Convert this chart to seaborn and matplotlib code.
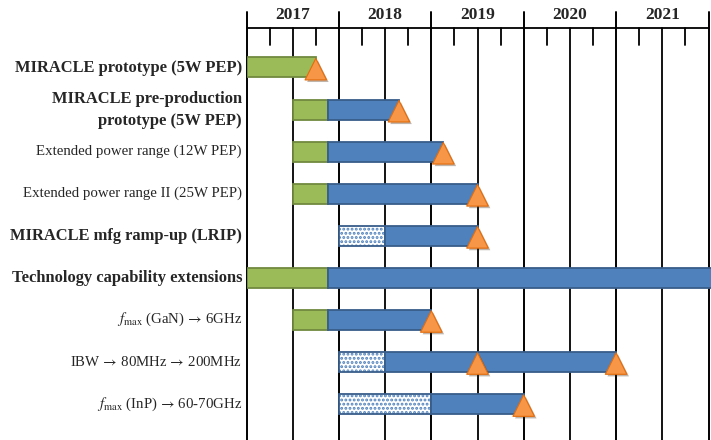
import matplotlib
matplotlib.use("Agg")
import matplotlib.pyplot as plt
import seaborn as sns
from matplotlib import patheffects as pe
from matplotlib.transforms import blended_transform_factory

sns.set_style("white")
plt.rcParams['font.family'] = ['Liberation Serif', 'DejaVu Serif']
plt.rcParams['mathtext.fontset'] = 'stix'
plt.rcParams['hatch.linewidth'] = 1.4

# ---------------- data ----------------
tasks = [
    "MIRACLE prototype (5W PEP)",
    "MIRACLE pre-production\nprototype (5W PEP)",
    "Extended power range (12W PEP)",
    "Extended power range II (25W PEP)",
    "MIRACLE mfg ramp-up (LRIP)",
    "Technology capability extensions",
    r"$f_{\rm max}$ (GaN)$\,\rightarrow\,$6GHz",
    r"IBW$\,\rightarrow\,$80MHz$\,\rightarrow\,$200MHz",
    r"$f_{\rm max}$ (InP)$\,\rightarrow\,$60-70GHz",
]
bold = [True, True, False, False, True, True, False, False, False]
phase1_kind = ["green", "green", "green", "green", "dotted", "green", "green", "dotted", "dotted"]
phase1_start = [2017.0, 2017.5, 2017.5, 2017.5, 2018.0, 2017.0, 2017.5, 2018.0, 2018.0]
phase1_end = [2017.75, 2017.88, 2017.88, 2017.88, 2018.5, 2017.88, 2017.88, 2018.5, 2019.0]
phase2_end = [None, 2018.65, 2019.13, 2019.5, 2019.5, 2022.2, 2019.0, 2021.0, 2020.0]
milestone_row = [0, 1, 2, 3, 4, 6, 7, 7, 8]
milestone_time = [2017.75, 2018.65, 2019.13, 2019.5, 2019.5, 2019.0, 2019.5, 2021.0, 2020.0]
years = [2017, 2018, 2019, 2020, 2021]

GREEN, GREEN_E = "#9BBB59", "#71893F"
BLUE, BLUE_E = "#4F81BD", "#385D8A"
ORANGE, ORANGE_E = "#F79646", "#E46C0A"

W, H = 711, 440
fig = plt.figure(figsize=(W / 100, H / 100), dpi=100)
x0 = 246.5
pxyear = 92.4
ax = fig.add_axes([x0 / W, 0, (W - x0) / W, 1])
ax.set_xlim(2017, 2017 + (W - x0) / pxyear)
row0, rowstep = 67.5, 42.05
ax.set_ylim((H - row0) / rowstep, -row0 / rowstep)
ax.axis("off")

bar_h = 20 / rowstep
for i in range(len(tasks)):
    if phase1_kind[i] == "green":
        ax.barh(i, phase1_end[i] - phase1_start[i], left=phase1_start[i], height=bar_h,
                color=GREEN, edgecolor=GREEN_E, linewidth=1.3, zorder=3)
    else:
        ax.barh(i, phase1_end[i] - phase1_start[i], left=phase1_start[i], height=bar_h,
                color="white", edgecolor=BLUE, hatch="....", linewidth=0, zorder=3)
        ax.barh(i, phase1_end[i] - phase1_start[i], left=phase1_start[i], height=bar_h,
                fill=False, edgecolor=BLUE_E, linewidth=1.3, zorder=3)
    if phase2_end[i] is not None:
        ax.barh(i, phase2_end[i] - phase1_end[i], left=phase1_end[i], height=bar_h,
                color=BLUE, edgecolor=BLUE_E, linewidth=1.3, zorder=3)

# milestones
sns.scatterplot(x=milestone_time, y=[r + 0.04 for r in milestone_row], marker="^",
                s=240, color=ORANGE, edgecolor=ORANGE_E, linewidth=0.8,
                ax=ax, zorder=6, legend=False)
for coll in ax.collections:
    coll.set_path_effects([pe.SimplePatchShadow(offset=(1.5, -1.5), alpha=0.35), pe.Normal()])
    coll.set_clip_on(False)

# header / grid
tx = ax.get_xaxis_transform()
fy = lambda p: 1 - p / H
ax.plot([2017, 2022], [fy(28), fy(28)], transform=tx, color="black", lw=1.3, clip_on=False, zorder=2)
for y in years + [2022]:
    ax.plot([y, y], [fy(12), fy(H)], transform=tx, color="black", lw=1.4, clip_on=False, zorder=2)
for y in years:
    ax.plot([y + 0.5, y + 0.5], [fy(28), fy(H)], transform=tx, color="black", lw=1.3, clip_on=False, zorder=2)
    for q in (0.25, 0.75):
        ax.plot([y + q, y + q], [fy(28), fy(45)], transform=tx, color="black", lw=1.3, clip_on=False, zorder=2)
    ax.text(y + 0.5, fy(15), str(y), transform=tx, ha="center", va="center",
            fontsize=12.5, fontweight="bold")

# labels
lt = blended_transform_factory(fig.transFigure, ax.transData)
for i, t in enumerate(tasks):
    ax.text(242 / W, i, t, transform=lt, ha="right", va="center",
            fontsize=11.9 if bold[i] else 10.7, fontweight="bold" if bold[i] else "normal",
            linespacing=1.5)

fig.savefig("out.png", dpi=100)
